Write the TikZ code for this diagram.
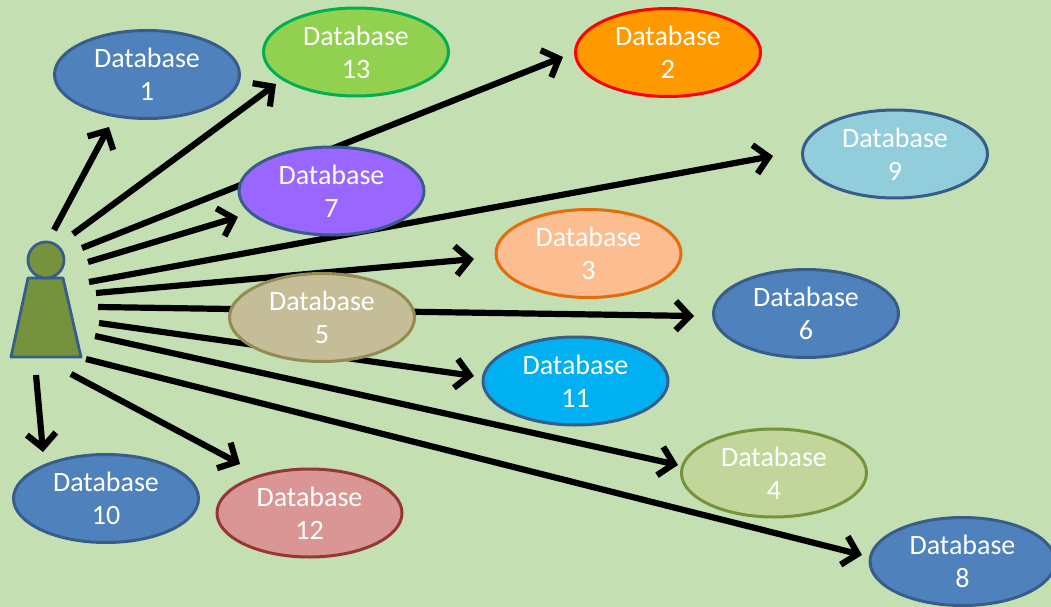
\documentclass[tikz,border=0pt]{standalone}
\usepackage{fontspec}
\setmainfont{Carlito}
\usetikzlibrary{arrows.meta,shapes.geometric}
\definecolor{bg}{HTML}{C4DFB1}
\definecolor{blu}{HTML}{4F81BD}
\definecolor{bluedge}{HTML}{385D8A}
\definecolor{oliv}{HTML}{76923C}
\definecolor{ltgreen}{RGB}{146,208,80}
\definecolor{edgegreen}{RGB}{0,176,80}
\definecolor{ambr}{RGB}{255,153,0}
\definecolor{ltblue}{RGB}{146,205,220}
\definecolor{purp}{RGB}{153,102,255}
\definecolor{edgeor}{RGB}{228,108,10}
\definecolor{peach}{RGB}{252,190,145}
\definecolor{edgetan}{RGB}{148,138,84}
\definecolor{tan5}{RGB}{196,189,151}
\definecolor{skyb}{RGB}{0,176,240}
\definecolor{paleol}{RGB}{194,214,155}
\definecolor{edgered}{RGB}{149,55,53}
\definecolor{rose}{RGB}{217,150,148}
\tikzset{
 x=1pt,y=-1pt,
 db/.style={ellipse,draw=#1,line width=3pt,minimum width=185pt,minimum height=88pt,inner sep=0pt,text=white,align=center,font=\fontsize{28}{33}\selectfont},
 db/.default=bluedge,
 link/.style={line width=6.2pt,draw=black,-{Straight Barb[length=14pt,width=29pt,line width=6.2pt]}},
}
\begin{document}
\begin{tikzpicture}
\useasboundingbox (0,0) rectangle (1051,607);
\fill[bg] (0,0) rectangle (1051,607);
% free ends
\foreach \n/\a/\b/\c/\d in {
 s1/54/230/109/127, s13/73/234/276/84, s2/82/248/563/57, s7/88/262/238/217,
 s9/89/282/773/156, s3/96/293/474/259, s5/98/307/694/316, s11/99/323/474/376,
 s4/95/336/678/465, s8/86/359/862/555, s12/71/374/240/464, s10/36/375/43/452}{
 \coordinate (\n a) at (\a,\b);
 \coordinate (\n b) at (\c,\d);
}
\foreach \n in {s1,s13,s2,s7,s9,s3,s5,s11,s4,s8,s12,s10}{\draw[link] (\n a) -- (\n b);}
% person
\draw[draw=bluedge,fill=oliv,line width=2.8pt,line join=round] (28,278) -- (63,278) -- (81,357) -- (11,357) -- cycle;
\node[circle,draw=bluedge,fill=oliv,line width=2.8pt,minimum size=36pt,inner sep=0pt] (head) at (46,260) {};
% databases
\node[db,fill=blu] (d1) at (147,74.5) {Database\\1};
\node[db=edgegreen,fill=ltgreen] (d13) at (356,52) {Database\\13};
\node[db=red,fill=ambr] (d2) at (668,52.5) {Database\\2};
\node[db,fill=ltblue] (d9) at (895,154) {Database\\9};
\node[db,fill=purp] (d7) at (331.5,191) {Database\\7};
\node[db=edgeor,fill=peach] (d3) at (588.5,253.5) {Database\\3};
\node[db,fill=blu] (d6) at (806,313.5) {Database\\6};
\node[db=edgetan,fill=tan5] (d5) at (322,317.5) {Database\\5};
\node[db,fill=skyb] (d11) at (575.5,381) {Database\\11};
\node[db=oliv,fill=paleol] (d4) at (774,473) {Database\\4};
\node[db,fill=blu] (d10) at (106,498.5) {Database\\10};
\node[db=edgered,fill=rose] (d12) at (309.5,513) {Database\\12};
\node[db,fill=blu] (d8) at (962.5,561.5) {Database\\8};
\end{tikzpicture}
\end{document}
